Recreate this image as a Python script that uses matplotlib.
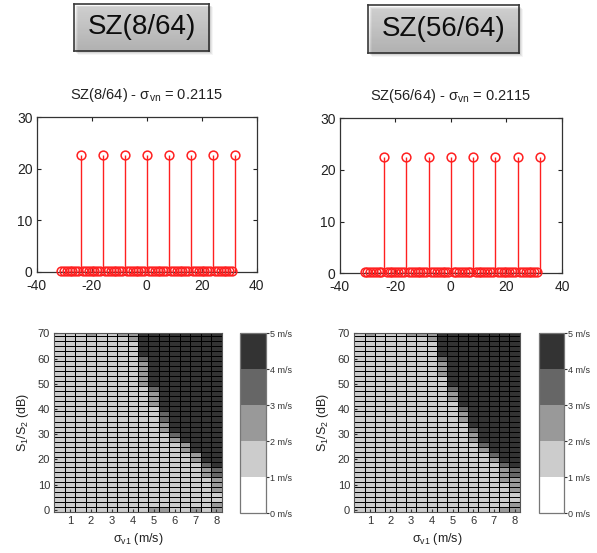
import numpy as np
import matplotlib
matplotlib.use("Agg")
import matplotlib.pyplot as plt
from matplotlib.colors import ListedColormap, BoundaryNorm
from matplotlib.patches import Rectangle
from matplotlib.cm import ScalarMappable

plt.rcParams['font.family'] = ['Liberation Sans', 'DejaVu Sans']
plt.rcParams['mathtext.fontset'] = 'custom'
plt.rcParams['mathtext.rm'] = 'Liberation Sans'
plt.rcParams['mathtext.it'] = 'Liberation Sans'
plt.rcParams['axes.unicode_minus'] = False

W, H, DPI = 597, 553, 100

# ---------------- data ----------------
panel_names = ["SZ(8/64)", "SZ(56/64)"]
sigma_vn = [0.2115, 0.2115]

# Doppler bins of the 64-sample spectrum
bin_index = np.arange(-31, 33)
peak_bins = [-24, -16, -8, 0, 8, 16, 24, 32]
peak_power = [22.6, 22.6, 22.6, 22.6, 22.6, 22.6, 22.6, 22.6]
noise_floor = 0.2

# velocity error map: columns sigma_v1 = 0.5 ... 8.0 m/s, rows S1/S2 = 70 ... 0 dB
sigma_v1 = np.arange(0.5, 8.01, 0.5)
snr_db = np.arange(70, -1, -2)
error_left = [
    "1112112244444444",
    "1111111244444444",
    "1111111144444444",
    "1111111144444444",
    "1111111144444444",
    "1111111134444444",
    "1111111124444444",
    "1111111124444444",
    "1111111124444444",
    "1111111124444444",
    "1111111124444444",
    "1111111113444444",
    "1111111112444444",
    "1111111112444444",
    "1111111112444444",
    "1111111111444444",
    "1111111111344444",
    "1111111111344444",
    "1111111111244444",
    "1111111111244444",
    "1111111111134444",
    "1111111111124444",
    "1111111111112444",
    "1111111111112444",
    "1111111111111244",
    "1111111111111244",
    "1111111111111134",
    "1111111111111123",
    "1111111111111123",
    "1111111111111112",
    "1111111111111112",
    "1111111111111112",
    "1111111111111111",
    "1111111111111111",
    "1111111111111112",
    "1111111112211212",
]
error_right = [
    "1211122244444444",
    "1111111244444444",
    "1111111144444444",
    "1111111144444444",
    "1111111144444444",
    "1111111134444444",
    "1111111124444444",
    "1111111124444444",
    "1111111124444444",
    "1111111114444444",
    "1111111114444444",
    "1111111113444444",
    "1111111112444444",
    "1111111112444444",
    "1111111111444444",
    "1111111111344444",
    "1111111111244444",
    "1111111111244444",
    "1111111111144444",
    "1111111111134444",
    "1111111111124444",
    "1111111111124444",
    "1111111111113444",
    "1111111111112444",
    "1111111111111344",
    "1111111111111244",
    "1111111111111134",
    "1111111111111123",
    "1111111111111123",
    "1111111111111122",
    "1111111111111112",
    "1111111111111112",
    "1111111111111111",
    "1111111111111111",
    "1111111111111112",
    "1111111111111122",
]
error_maps = [error_left, error_right]

cbar_levels = [0, 1, 2, 3, 4, 5]
cbar_labels = ["0 m/s", "1 m/s", "2 m/s", "3 m/s", "4 m/s", "5 m/s"]
gray_levels = ["#ffffff", "#cccccc", "#999999", "#666666", "#333333"]


def frac(x0, y0, x1, y1):
    """pixel box (top-left origin) -> figure fraction rect"""
    return [x0 / W, 1 - y1 / H, (x1 - x0) / W, (y1 - y0) / H]


fig = plt.figure(figsize=(W / DPI, H / DPI), dpi=DPI)
fig.patch.set_facecolor("white")

# ---------------- header buttons ----------------
button_boxes = [(74, 4, 209, 51), (368, 5, 519, 53)]
shade = np.linspace(0.99, 0.84, 48)
grad = np.repeat(shade[:, None, None], 3, axis=2)
for name, (x0, y0, x1, y1) in zip(panel_names, button_boxes):
    for k, a in enumerate([0.08, 0.06, 0.04]):
        d = 1.5 + k
        fig.patches.append(Rectangle(((x0 + d) / W, 1 - (y1 + d) / H),
                                     (x1 - x0) / W, (y1 - y0) / H,
                                     transform=fig.transFigure, facecolor="black",
                                     alpha=a, edgecolor="none", zorder=0))
    bax = fig.add_axes(frac(x0, y0, x1, y1))
    bax.imshow(grad, aspect="auto", extent=[0, 1, 0, 1],
               interpolation="bilinear")
    bax.set_xlim(0, 1)
    bax.set_ylim(0, 1)
    bax.set_xticks([])
    bax.set_yticks([])
    for s in bax.spines.values():
        s.set_color("#3a3a3a")
        s.set_linewidth(1.2)
    bax.text(0.5, 0.5, name, ha="center", va="center", fontsize=20,
             color="#111111")

# ---------------- spectra (stem plots) ----------------
stem_boxes = [(36.7, 117.3, 256.7, 271.7), (339.7, 118.3, 562, 273.3)]
for name, sv, box in zip(panel_names, sigma_vn, stem_boxes):
    ax = fig.add_axes(frac(*box))
    power = np.full(bin_index.shape, noise_floor)
    for b, p in zip(peak_bins, peak_power):
        power[bin_index == b] = p
    ax.vlines(bin_index, 0, power, color="#ff2020", lw=1.0)
    ax.plot(bin_index, power, "o", mfc="none", mec="#ff2020", ms=6.3,
            mew=1.1, clip_on=False, zorder=3)
    ax.set_xlim(-40, 40)
    ax.set_ylim(0, 30)
    ax.set_xticks([-40, -20, 0, 20, 40])
    ax.set_yticks([0, 10, 20, 30])
    ax.tick_params(direction="in", length=3, width=0.8, top=True, right=True,
                   labelsize=10, colors="#222222")
    ax.tick_params(axis="x", pad=5)
    ax.tick_params(axis="y", pad=3)
    for s in ax.spines.values():
        s.set_color("#333333")
        s.set_linewidth(0.9)
    ax.set_title(f"{name} - σ$_{{\\mathregular{{vn}}}}$ = {sv:.4f}",
                 fontsize=10.5, pad=13, color="#222222")

# ---------------- velocity error maps ----------------
cmap = ListedColormap(gray_levels)
norm = BoundaryNorm(cbar_levels, cmap.N)
x_edges = np.append(sigma_v1 - 0.25, sigma_v1[-1] + 0.25)
y_centers = snr_db[::-1]
y_edges = np.append(y_centers - 1, y_centers[-1] + 1)

map_boxes = [(54.3, 333.3, 221.7, 512.3), (354.3, 333.3, 519.7, 512.3)]
cbar_boxes = [(240, 333.3, 265.5, 513.3), (538.7, 333.3, 563.7, 513.3)]
for rows, mbox, cbox in zip(error_maps, map_boxes, cbar_boxes):
    grid = np.array([[int(ch) for ch in r] for r in rows])[::-1]
    ax = fig.add_axes(frac(*mbox))
    ax.pcolormesh(x_edges, y_edges, grid, cmap=cmap, norm=norm,
                  edgecolors="black", linewidth=0.7)
    ax.set_xlim(0.25, 8.25)
    ax.set_ylim(-1, 70)
    ax.set_xticks(range(1, 9))
    ax.set_yticks(range(0, 71, 10))
    ax.tick_params(direction="in", length=2, labelsize=8, pad=3,
                   colors="#333333")
    for s in ax.spines.values():
        s.set_color("#555555")
        s.set_linewidth(0.8)
    ax.set_xlabel("σ$_{\\mathregular{v1}}$ (m/s)", fontsize=9, labelpad=3,
                  color="#222222")
    ax.set_ylabel("S$_{\\mathregular{1}}$/S$_{\\mathregular{2}}$ (dB)",
                  fontsize=9, labelpad=5, color="#222222")

    cax = fig.add_axes(frac(*cbox))
    cb = fig.colorbar(ScalarMappable(norm=norm, cmap=cmap), cax=cax,
                      ticks=cbar_levels)
    cb.ax.set_yticklabels(cbar_labels)
    cb.ax.tick_params(labelsize=6.5, length=2, pad=1, colors="#333333")
    cb.outline.set_edgecolor("#777777")
    cb.outline.set_linewidth(0.9)

fig.savefig("out.png", dpi=DPI)
